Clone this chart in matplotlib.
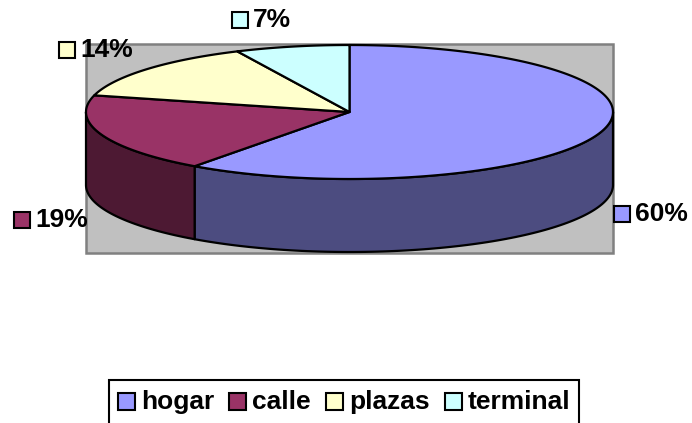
import numpy as np
import matplotlib.pyplot as plt
from matplotlib.patches import Polygon, Rectangle

plt.rcParams['font.family'] = ['Liberation Sans', 'DejaVu Sans']

# Data
categories = ['hogar', 'calle', 'plazas', 'terminal']
shares = [60, 19, 14, 7]
top_colors = ['#9999FF', '#993366', '#FFFFCC', '#CCFFFF']
side_colors = ['#4C4C80', '#4D1933', '#80806A', '#6A8080']
label_text = ['60%', '19%', '14%', '7%']

# Layout of the 3D pie (pixels)
cx, cy = 349.5, 112.0
ra, rb = 263.5, 67.0
depth = 73.0
# marker centre positions for the data labels (same order as categories)
label_pos = [(622, 214), (22, 220), (67, 50), (240, 20)]

fig = plt.figure(figsize=(6.92, 4.23), dpi=100)
ax = fig.add_axes([0, 0, 1, 1])
ax.set_xlim(0, 692)
ax.set_ylim(423, 0)
ax.axis('off')

# plot area
ax.add_patch(Rectangle((86, 44), 527, 209, facecolor='#C0C0C0',
                       edgecolor='#808080', lw=1.8, zorder=0))


def ell(theta, dy=0.0):
    t = np.radians(theta)
    return np.column_stack([cx + ra * np.cos(t), cy - rb * np.sin(t) + dy])


frac = np.array(shares, dtype=float) / sum(shares)
cum = np.concatenate([[0], np.cumsum(frac)])
starts = 90 - 360 * cum[:-1]
ends = 90 - 360 * cum[1:]

# side walls (only the front half, angles -180..0)
for s, e, col in zip(starts, ends, side_colors):
    lo, hi = max(e, -180), min(s, 0)
    if hi <= lo:
        continue
    th = np.linspace(lo, hi, 100)
    pts = np.vstack([ell(th), ell(th[::-1], depth)])
    ax.add_patch(Polygon(pts, closed=True, facecolor=col, edgecolor='black',
                         lw=1.6, joinstyle='round', zorder=2))

# top faces
for s, e, col in zip(starts, ends, top_colors):
    th = np.linspace(s, e, 200)
    pts = np.vstack([[cx, cy], ell(th)])
    ax.add_patch(Polygon(pts, closed=True, facecolor=col, edgecolor='black',
                         lw=1.6, joinstyle='round', zorder=3))

fs = 19
msz = 16

# data labels
for (mx, my), txt, col in zip(label_pos, label_text, top_colors):
    ax.add_patch(Rectangle((mx - msz / 2, my - msz / 2), msz, msz, facecolor=col,
                           edgecolor='black', lw=1.5, zorder=5))
    ax.text(mx + msz / 2 + 5, my, txt, fontsize=fs, fontweight='bold',
            va='center', ha='left', zorder=5)

# legend (drawn by hand, box runs off the bottom edge)
ax.add_patch(Rectangle((109, 380), 470, 60, facecolor='white',
                       edgecolor='black', lw=1.5, zorder=4, clip_on=True))
renderer = fig.canvas.get_renderer()
x = 118
ly = 402
for name, col in zip(categories, top_colors):
    ax.add_patch(Rectangle((x, ly - 8.5), 17, 17, facecolor=col,
                           edgecolor='black', lw=1.5, zorder=5))
    t = ax.text(x + 23, ly, name, fontsize=fs, fontweight='bold',
                va='center', ha='left', zorder=5)
    bb = t.get_window_extent(renderer)
    x = x + 23 + bb.width + 15

fig.savefig('out.png', dpi=100)
